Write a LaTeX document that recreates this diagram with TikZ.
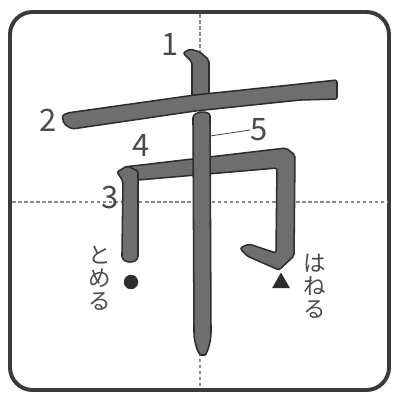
\documentclass[tikz,border=0pt]{standalone}
\usepackage{fontspec}
\setmainfont{Noto Sans CJK JP}
\usepackage{xcolor}
\usepackage{tikz}
\usetikzlibrary{shapes.geometric}
\definecolor{InkGray}{HTML}{6E6E6E}
\definecolor{InkEdge}{HTML}{2E2E2E}
\definecolor{FrameGray}{HTML}{3A3A3A}
\definecolor{GuideGray}{HTML}{8A8A8A}
\definecolor{LabelGray}{HTML}{4A4A4A}

\begin{document}
\begin{tikzpicture}[
  x=0.025cm,y=-0.025cm,
  frame/.style={draw=FrameGray,line width=2.8pt,rounded corners=16pt},
  guide/.style={draw=GuideGray,line width=1pt,dash pattern=on 2.5pt off 1.8pt},
  brush/.style={fill=InkGray,draw=InkEdge,line width=1.1pt,line join=round,rounded corners=1.5pt},
  num/.style={font=\fontsize{22}{22}\selectfont,text=LabelGray,inner sep=0pt},
  kana/.style={font=\fontsize{16}{16.3}\selectfont,text=LabelGray,align=center,inner sep=0pt},
  leader/.style={draw=LabelGray,line width=0.6pt},
  dot/.style={circle,fill=InkEdge,minimum size=0.36cm,inner sep=0pt},
  tri/.style={regular polygon,regular polygon sides=3,fill=InkEdge,minimum size=0.52cm,inner sep=0pt}
]
\useasboundingbox (0,0) rectangle (397,397);
\draw[frame] (10,12) rectangle (389,390);
\draw[guide] (200,14) -- (200,388);
\draw[guide] (12,202) -- (387,202);
\draw[brush] (183,53) -- (190,49) -- (200,52) -- (209,60) -- (209,98) -- (192,100) -- (192,62) -- cycle;
\draw[brush] (62,116) -- (67,113) -- (195,95) -- (300,84) -- (337,80) -- (337,99)
      -- (300,100) -- (195,111) -- (72,129) -- (64,124) -- cycle;
\draw[brush] (124,167) -- (286,148) -- (295,155) -- (294,256) -- (279,270) -- (247,256)
      -- (240,248) -- (249,244) -- (276,253) -- (277,168) -- (138,180) -- cycle;
\draw[brush] (117,172) -- (127,166) -- (138,171) -- (138,254)
      .. controls (138,264) and (122,264) .. (122,254) -- (123,181) -- cycle;
\draw[brush] (193,120) .. controls (193,111) and (210,110) .. (210,118) -- (211,330)
      .. controls (211,344) and (206,355) .. (203,355) .. controls (199,355) and (194,344) .. (194,330) -- cycle;
\node[num] (n1) at (170,44) {1};
\node[num] (n2) at (48,120) {2};
\node[num] (n3) at (110,197) {3};
\node[num] (n4) at (141,145) {4};
\node[num] (n5) at (259,130) {5};
\coordinate (s5) at (210,136);
\draw[leader] (n5.west) -- (s5);
\node[dot] (tome) at (131,282) {};
\node[tri] (hane) at (281,283) {};
\node[kana] (tomeru) at (100,278) {と\\め\\る};
\node[kana] (haneru) at (315,286) {は\\ね\\る};
\end{tikzpicture}
\end{document}
